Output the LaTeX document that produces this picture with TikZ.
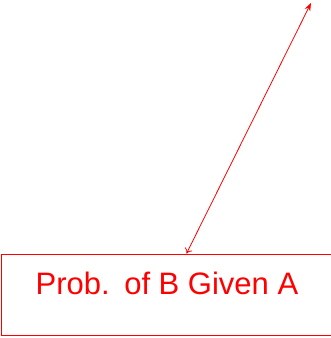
\documentclass[tikz,border=0pt]{standalone}
\usepackage{fontspec}
\setmainfont{Liberation Sans}
\usetikzlibrary{arrows.meta}
\begin{document}
\begin{tikzpicture}[x=1pt,y=-1pt,
  redbox/.style={draw=red,line width=1pt,minimum width=343pt,minimum height=81pt,inner sep=0pt},
  redtext/.style={text=red,font=\fontsize{31}{36}\selectfont,inner sep=0pt},
  redarrow/.style={draw=red,line width=0.8pt,{To[length=5pt,width=8pt]}-{Stealth[length=8pt,width=6pt]}}]
\clip (0,0) rectangle (331,338);
\useasboundingbox (0,0) rectangle (331,338);
\node[redbox] (box) at (173,294.5) {};
\node[redtext] (lbl) at (167,283) {Prob.\hspace{3pt} of B Given A};
\coordinate (tip) at (311,3);
\draw[redarrow] ([xshift=185.5pt]box.north west) -- (tip);
\end{tikzpicture}
\end{document}
